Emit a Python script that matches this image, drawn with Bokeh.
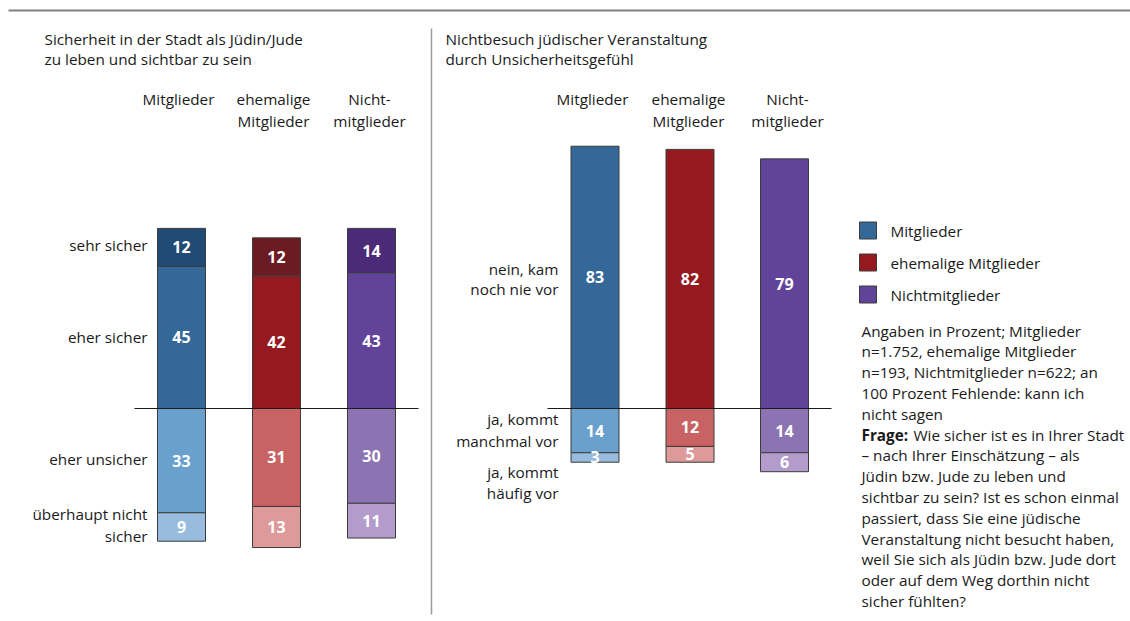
from bokeh.plotting import figure
from bokeh.models import Range1d, ColumnDataSource
from bokeh.core.properties import value
from bokeh.embed import file_html
from bokeh.resources import INLINE

# ---------------- data ----------------
groups = ["Mitglieder", "ehemalige Mitglieder", "Nichtmitglieder"]
header_lines = [["Mitglieder"], ["ehemalige", "Mitglieder"], ["Nicht-", "mitglieder"]]

# left panel: Sicherheit
sehr_sicher = [12, 12, 14]
eher_sicher = [45, 42, 43]
eher_unsicher = [33, 31, 30]
ueberhaupt_nicht = [9, 13, 11]

# right panel: Nichtbesuch
nein_nie = [83, 82, 79]
ja_manchmal = [14, 12, 14]
ja_haeufig = [3, 5, 6]

left_cats = [["sehr sicher"], ["eher sicher"], ["eher unsicher"], ["überhaupt nicht", "sicher"]]
right_cats = [["nein, kam", "noch nie vor"], ["ja, kommt", "manchmal vor"], ["ja, kommt", "häufig vor"]]

title_left = ["Sicherheit in der Stadt als Jüdin/Jude", "zu leben und sichtbar zu sein"]
title_right = ["Nichtbesuch jüdischer Veranstaltung", "durch Unsicherheitsgefühl"]

note_lines = [
    "Angaben in Prozent; Mitglieder",
    "n=1.752, ehemalige Mitglieder",
    "n=193, Nichtmitglieder n=622; an",
    "100 Prozent Fehlende: kann ich",
    "nicht sagen",
    "Wie sicher ist es in Ihrer Stadt",
    "– nach Ihrer Einschätzung – als",
    "Jüdin bzw. Jude zu leben und",
    "sichtbar zu sein? Ist es schon einmal",
    "passiert, dass Sie eine jüdische",
    "Veranstaltung nicht besucht haben,",
    "weil Sie sich als Jüdin bzw. Jude dort",
    "oder auf dem Weg dorthin nicht",
    "sicher fühlten?",
]

# shades per group: [dark, main, light, lighter]
shades = [
    ["#1f4b74", "#346899", "#6aa0cc", "#97bcdd"],
    ["#6b1c22", "#951a1f", "#c96363", "#dd9a99"],
    ["#4b2b78", "#61449a", "#8c74b3", "#b39ccc"],
]

# ---------------- layout ----------------
W, H = 1130, 616
OFF = 0
K = 3.16          # px per percent
BASE = 408        # screen y of zero line

def sy(ypx):
    return (BASE - ypx) / K

FONT = value("Open Sans")
TXT = "#1a1a1a"

p = figure(width=W, height=H, output_backend="svg", toolbar_location=None,
           x_range=Range1d(OFF, OFF + W), y_range=Range1d(sy(OFF + H), sy(OFF)),
           min_border=0)
p.axis.visible = False
p.grid.visible = False
p.outline_line_color = None
p.background_fill_color = None
p.border_fill_color = "white"

left_x = [181, 276, 371]
right_x = [594.5, 689.5, 784]
BW = 48

def add_text(xs, ys, texts, size="15.3px", align="left", color=TXT, style="normal", baseline="middle"):
    p.text(x=xs, y=ys, text=texts, text_font=FONT, text_font_size=size,
           text_align=align, text_baseline=baseline, text_color=color,
           text_font_style=style)

# --------- bars ----------
rows = {"x": [], "bottom": [], "top": [], "color": [], "lbl": [], "ly": []}
def seg(x, b, t, c, v):
    rows["x"].append(x); rows["bottom"].append(b); rows["top"].append(t)
    rows["color"].append(c); rows["lbl"].append(str(v)); rows["ly"].append((b + t) / 2)

for i in range(3):
    x = left_x[i]
    seg(x, 0, eher_sicher[i], shades[i][1], eher_sicher[i])
    seg(x, eher_sicher[i], eher_sicher[i] + sehr_sicher[i], shades[i][0], sehr_sicher[i])
    seg(x, -eher_unsicher[i], 0, shades[i][2], eher_unsicher[i])
    seg(x, -eher_unsicher[i] - ueberhaupt_nicht[i], -eher_unsicher[i], shades[i][3], ueberhaupt_nicht[i])
    x = right_x[i]
    seg(x, 0, nein_nie[i], shades[i][1], nein_nie[i])
    seg(x, -ja_manchmal[i], 0, shades[i][2], ja_manchmal[i])
    seg(x, -ja_manchmal[i] - ja_haeufig[i], -ja_manchmal[i], shades[i][3], ja_haeufig[i])

src = ColumnDataSource(rows)
p.vbar(x="x", bottom="bottom", top="top", width=BW, fill_color="color",
       line_color="#3c3c3c", line_width=1, source=src)
p.text(x="x", y="ly", text="lbl", source=src, text_font=FONT, text_font_size="16px",
       text_font_style="bold", text_color="white", text_align="center", text_baseline="middle")

# zero lines
p.segment(x0=[134, 547], y0=[0, 0], x1=[418, 831], y1=[0, 0], line_color="#1a1a1a", line_width=1.2)

# separators
p.segment(x0=[8], y0=[sy(10)], x1=[OFF + W], y1=[sy(10)], line_color="#808080", line_width=2)
p.segment(x0=[431], y0=[sy(28)], x1=[431], y1=[sy(614)], line_color="#9a9a9a", line_width=1.5)

# titles
add_text([44, 44], [sy(38), sy(58)], title_left)
add_text([445, 445], [sy(38), sy(58)], title_right)

# column headers
lh_x = [178, 273, 369]
rh_x = [592, 688, 787]
for i in range(3):
    for j, t in enumerate(header_lines[i]):
        add_text([lh_x[i]], [sy(98 + 22 * j)], [t], align="center")
        add_text([rh_x[i]], [sy(98 + 22 * j)], [t], align="center")

# row labels
left_y = [[244], [336], [458], [513, 535]]
for lines, ys in zip(left_cats, left_y):
    add_text([147] * len(lines), [sy(v) for v in ys], lines, align="right")
right_y = [[268, 288], [418, 440], [471, 492]]
for lines, ys in zip(right_cats, right_y):
    add_text([558] * len(lines), [sy(v) for v in ys], lines, align="right")

# legend
leg_y = [230, 262, 294]
for i in range(3):
    p.quad(left=[859], right=[876], top=[sy(leg_y[i] - 8.5)], bottom=[sy(leg_y[i] + 8.5)],
           fill_color=shades[i][1], line_color="#3c3c3c", line_width=1)
    add_text([890], [sy(leg_y[i])], [groups[i]])

# notes
for k, line in enumerate(note_lines):
    yy = sy(330 + k * 20.8)
    if k == 5:
        add_text([861], [yy], ["Frage:"], style="bold")
        add_text([913], [yy], [line])
    else:
        add_text([861], [yy], [line])

open("out.html", "w").write(file_html(p, INLINE))
